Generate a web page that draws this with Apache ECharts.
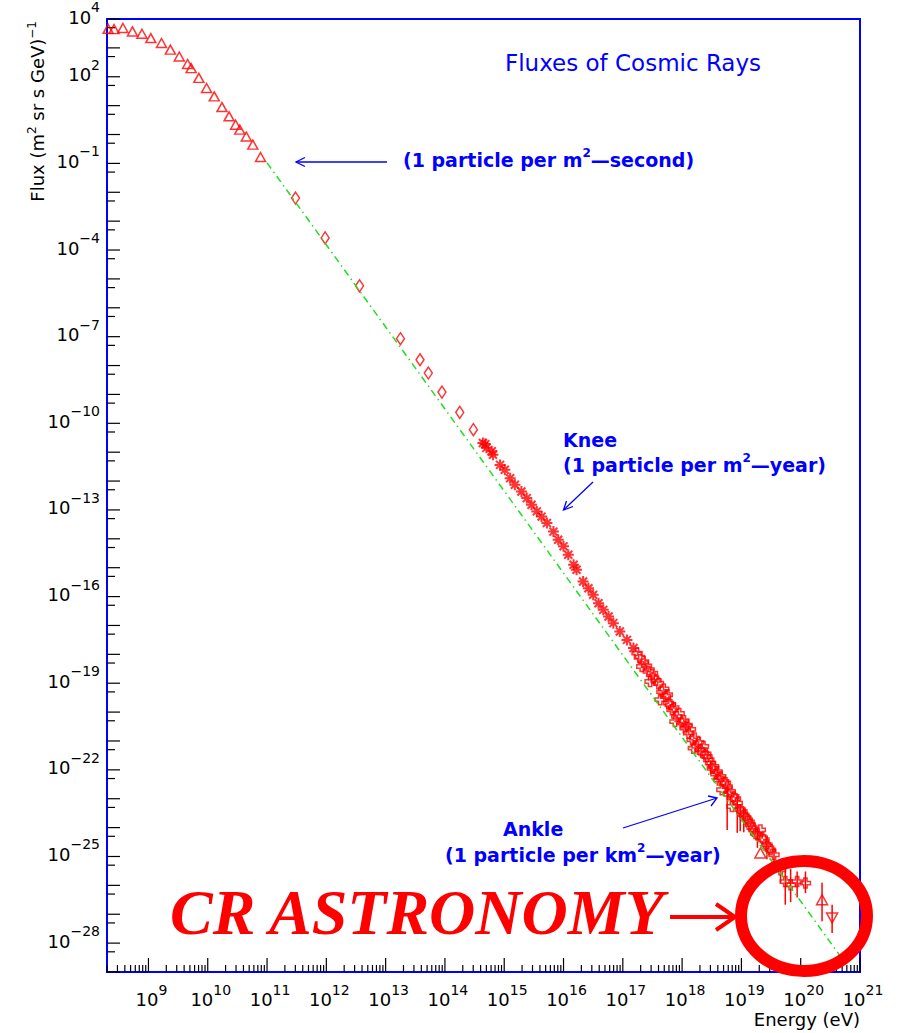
<!DOCTYPE html>
<html>
<head>
<meta charset="utf-8">
<script src="https://cdn.jsdelivr.net/npm/echarts@6/dist/echarts.min.js"></script>
<style>
  html, body { margin: 0; padding: 0; background: #ffffff; }
  #chart { width: 901px; height: 1033px; }
</style>
</head>
<body>
<div id="chart"></div>
<script>
// Axis ranges (energy in eV, flux in (m^2 sr s GeV)^-1)
const X_MIN = 2e8, X_MAX = 1e21;
const Y_MIN = 1e-29, Y_MAX = 1e4;

// Tick label exponents
const xLabelExponents = [9, 10, 11, 12, 13, 14, 15, 16, 17, 18, 19, 20, 21];
const yLabelExponents = [4, 2, -1, -4, -7, -10, -13, -16, -19, -22, -25, -28];

// Low-energy measurements (open up-triangles), log10 values
const triLogE = [8.32, 8.42, 8.57, 8.73, 8.89, 9.04, 9.22, 9.37, 9.52, 9.66, 9.72, 9.85, 9.98, 10.11, 10.24, 10.36, 10.47, 10.54, 10.65, 10.76, 10.89];
const triLogF = [3.66, 3.65, 3.69, 3.57, 3.49, 3.34, 3.17, 2.94, 2.70, 2.44, 2.30, 1.96, 1.61, 1.32, 0.95, 0.63, 0.34, 0.17, -0.07, -0.35, -0.78];

// Direct measurements (open diamonds)
const diaLogE = [11.48, 11.98, 12.56, 13.25, 13.58, 13.72, 13.95, 14.25, 14.48];
const diaLogF = [-2.20, -3.58, -5.24, -7.07, -7.80, -8.26, -8.92, -9.62, -10.22];

// Air-shower data around the knee (asterisks)
const starLogE = [14.64, 14.68, 14.70, 14.79, 14.81, 14.93, 15.01, 15.10, 15.18, 15.29, 15.38, 15.46, 15.55, 15.63, 15.72, 15.83, 15.91, 16.00, 16.08, 16.17, 16.22, 16.33, 16.42, 16.50, 16.59, 16.67, 16.76, 16.84, 16.95, 17.07, 17.18];
const starLogF = [-10.68, -10.72, -10.85, -10.97, -11.09, -11.44, -11.61, -11.90, -12.13, -12.36, -12.59, -12.82, -13.05, -13.23, -13.45, -13.75, -14.03, -14.26, -14.55, -14.90, -15.07, -15.48, -15.71, -15.94, -16.23, -16.46, -16.69, -16.92, -17.21, -17.50, -17.78];

// Highest-energy data (open crosses)
const crossLogE = [17.24, 17.28, 17.35, 17.32, 17.40, 17.43, 17.52, 17.46, 17.50, 17.56, 17.60, 17.66, 17.69, 17.72, 17.63, 17.75, 17.77, 17.80, 17.83, 17.86, 17.91, 17.88, 17.95, 18.00, 18.03, 18.05, 18.08, 18.11, 18.14, 18.17, 18.21, 18.25, 18.28, 18.31, 18.34, 18.36, 18.19, 18.40, 18.42, 18.45, 18.48, 18.51, 18.53, 18.57, 18.59, 18.62, 18.65, 18.70, 18.73, 18.76, 18.67, 18.79, 18.81, 18.87, 18.90, 18.93, 18.84, 18.98, 19.01, 19.04, 19.07, 19.10, 19.13, 19.15, 19.18, 19.21, 19.24, 19.32, 19.27, 19.35, 19.38, 19.43, 19.46, 19.49, 19.55, 19.66, 19.74, 19.83, 19.94, 20.08];
const crossLogF = [-17.96, -18.10, -18.25, -18.42, -18.40, -18.59, -18.82, -18.94, -18.65, -18.90, -19.00, -19.29, -19.20, -19.46, -19.57, -19.40, -19.69, -19.75, -19.92, -19.85, -20.15, -20.33, -20.05, -20.38, -20.30, -20.55, -20.45, -20.73, -20.60, -20.96, -20.90, -21.19, -21.05, -21.31, -21.40, -21.19, -21.25, -21.45, -21.54, -21.65, -21.77, -21.95, -21.88, -22.15, -22.06, -22.35, -22.23, -22.40, -22.45, -22.58, -22.69, -22.85, -22.75, -22.92, -23.00, -23.15, -23.27, -23.38, -23.45, -23.56, -23.65, -23.73, -23.80, -23.90, -24.00, -24.08, -24.20, -24.08, -24.25, -24.35, -24.42, -24.60, -24.70, -24.77, -24.94, -25.46, -25.87, -25.98, -25.87, -25.92];

// Highest-energy triangles
const heUpLogE = [19.32, 20.36];
const heUpLogF = [-24.88, -26.50];
const heDownLogE = [20.53];
const heDownLogF = [-27.13];

// Vertical error bars (decades above / below the point)
const errLogE = [18.48, 18.59, 18.76, 18.93, 18.98, 19.04, 19.27, 19.43, 19.55, 19.66, 19.74, 19.83, 19.94, 20.08, 20.36, 20.53];
const errLogF = [-21.77, -22.06, -22.58, -23.15, -23.38, -23.56, -24.25, -24.60, -24.94, -25.46, -25.87, -25.98, -25.87, -25.92, -26.50, -27.13];
const errUp   = [0.10, 0.10, 0.05, 0.28, 0.20, 0.25, 0.20, 0.30, 0.20, 0.30, 0.50, 0.55, 0.35, 0.40, 0.59, 0.46];
const errDown = [0.35, 0.30, 1.50, 1.03, 0.75, 0.60, 0.45, 0.50, 0.60, 0.45, 0.80, 0.60, 0.55, 0.35, 0.74, 0.52];

// E^-2.8 reference line
const refLogE = [11.0, 20.78];
const refLogF = [-0.98, -28.77];

const pow10 = e => Math.pow(10, e);
const pairs = (le, lf) => le.map((e, i) => [pow10(e), pow10(lf[i])]);
const supText = n => String(n).replace('-', '\u2212');

const RED = '#ff0000';
const BLUE = '#0000ff';
const FONT = '"DejaVu Sans", sans-serif';

// Tick marks: decades long, sub-decade short
const xTicks = [];
for (let n = 8; n <= 21; n++) {
  for (let k = 1; k <= 9; k++) {
    const v = k * pow10(n);
    if (v >= X_MIN * 0.999 && v <= X_MAX * 1.001) xTicks.push([v, Y_MIN, k === 1 ? 14 : 7]);
  }
}
const yTicks = [];
for (let n = -29; n <= 4; n++) {
  yTicks.push([X_MIN, pow10(n), 13]);
  const half = 0.5 * pow10(n);
  if (half >= Y_MIN) yTicks.push([X_MIN, half, 8]);
}

// "10" with a raised exponent: base glyph at the bottom of the line, exponent centred higher
const LABEL_RICH = {
  b: { fontSize: 18, fontFamily: FONT, lineHeight: 14, verticalAlign: 'bottom', fill: '#000' },
  s: { fontSize: 14, fontFamily: FONT, lineHeight: 38, verticalAlign: 'middle', fill: '#000' }
};

const ASTERISK = 'path://M0,-4L0,4M-4,0L4,0M-2.9,-2.9L2.9,2.9M-2.9,2.9L2.9,-2.9';
const OPEN_CROSS = 'path://M-1,-3L1,-3L1,-1L3,-1L3,1L1,1L1,3L-1,3L-1,1L-3,1L-3,-1L-1,-1Z';
const hollow = { color: 'rgba(0,0,0,0)', borderColor: RED, borderWidth: 1.5 };

const chart = echarts.init(document.getElementById('chart'), null, { renderer: 'svg' });

const annRich = (size) => ({
  n: { fontSize: size, fontFamily: FONT, fontWeight: 'bold', lineHeight: size + 3, verticalAlign: 'bottom', fill: BLUE },
  s: { fontSize: Math.round(size * 0.65), fontFamily: FONT, fontWeight: 'bold', lineHeight: Math.round(size * 0.65), verticalAlign: 'top', fill: BLUE }
});

const option = {
  animation: false,
  backgroundColor: '#ffffff',
  title: {
    text: 'Fluxes of Cosmic Rays',
    left: 505, top: 51, padding: 0,
    textStyle: { color: BLUE, fontFamily: FONT, fontSize: 23, fontWeight: 'normal', lineHeight: 24 }
  },
  grid: {
    left: 107, top: 19, width: 753, height: 953,
    show: true, borderColor: BLUE, borderWidth: 2, backgroundColor: 'transparent'
  },
  xAxis: {
    type: 'log', logBase: 10, min: X_MIN, max: X_MAX,
    axisLine: { show: false }, axisTick: { show: false }, axisLabel: { show: false }, splitLine: { show: false }
  },
  yAxis: {
    type: 'log', logBase: 10, min: Y_MIN, max: Y_MAX,
    axisLine: { show: false }, axisTick: { show: false }, axisLabel: { show: false }, splitLine: { show: false }
  },
  series: [
    {
      name: 'error bars', type: 'custom', silent: true,
      data: errLogE.map((e, i) => [pow10(e), pow10(errLogF[i]), pow10(errLogF[i] + errUp[i]), pow10(errLogF[i] - errDown[i])]),
      encode: { x: 0, y: 1 },
      renderItem: (params, api) => {
        const top = api.coord([api.value(0), api.value(2)]);
        const bot = api.coord([api.value(0), api.value(3)]);
        return { type: 'line', shape: { x1: top[0], y1: top[1], x2: bot[0], y2: bot[1] }, style: { stroke: RED, lineWidth: 1.5 } };
      }
    },
    { name: 'low energy', type: 'scatter', silent: true, symbol: 'triangle', symbolSize: [10, 9], itemStyle: hollow, data: pairs(triLogE, triLogF) },
    { name: 'direct', type: 'scatter', silent: true, symbol: 'diamond', symbolSize: [8, 12], itemStyle: hollow, data: pairs(diaLogE, diaLogF) },
    { name: 'knee', type: 'scatter', silent: true, symbol: ASTERISK, symbolSize: 11, itemStyle: { color: 'rgba(0,0,0,0)', borderColor: RED, borderWidth: 2 }, data: pairs(starLogE, starLogF) },
    { name: 'ankle', type: 'scatter', silent: true, symbol: OPEN_CROSS, symbolSize: 10, itemStyle: hollow, data: pairs(crossLogE, crossLogF) },
    { name: 'he up', type: 'scatter', silent: true, symbol: 'triangle', symbolSize: [11, 10], itemStyle: hollow, data: pairs(heUpLogE, heUpLogF) },
    { name: 'he down', type: 'scatter', silent: true, symbol: 'triangle', symbolRotate: 180, symbolSize: [11, 10], itemStyle: hollow, data: pairs(heDownLogE, heDownLogF) },
    {
      name: 'reference', type: 'line', silent: true, showSymbol: false, symbol: 'none',
      lineStyle: { color: '#22dd22', width: 1.5, type: [7, 4, 1.5, 4] },
      data: pairs(refLogE, refLogF)
    },
    {
      name: 'x ticks', type: 'custom', silent: true, data: xTicks, encode: { x: 0, y: 1 },
      renderItem: (params, api) => {
        const p = api.coord([api.value(0), Y_MIN]);
        const len = api.value(2);
        return { type: 'line', shape: { x1: p[0], y1: p[1], x2: p[0], y2: p[1] - len }, style: { stroke: '#000', lineWidth: 1.2 } };
      }
    },
    {
      name: 'y ticks', type: 'custom', silent: true, data: yTicks, encode: { x: 0, y: 1 },
      renderItem: (params, api) => {
        const p = api.coord([X_MIN, api.value(1)]);
        const len = api.value(2);
        return { type: 'line', shape: { x1: p[0], y1: p[1], x2: p[0] + len, y2: p[1] }, style: { stroke: '#000', lineWidth: 1.2 } };
      }
    },
    {
      name: 'x labels', type: 'custom', silent: true,
      data: xLabelExponents.map(n => [pow10(n), Y_MIN, n]), encode: { x: 0, y: 1 },
      renderItem: (params, api) => {
        const p = api.coord([api.value(0), Y_MIN]);
        return {
          type: 'text', x: p[0] + 3, y: p[1] - 1.5,
          style: { text: '{b|10}{s|' + supText(api.value(2)) + '}', rich: LABEL_RICH, align: 'center', verticalAlign: 'top', fill: '#000' }
        };
      }
    },
    {
      name: 'y labels', type: 'custom', silent: true,
      data: yLabelExponents.map(n => [X_MIN, pow10(n), n]), encode: { x: 0, y: 1 },
      renderItem: (params, api) => {
        const p = api.coord([X_MIN, api.value(1)]);
        return {
          type: 'text', x: p[0] - 7, y: p[1] - 31,
          style: { text: '{b|10}{s|' + supText(api.value(2)) + '}', rich: LABEL_RICH, align: 'right', verticalAlign: 'top', fill: '#000' }
        };
      }
    }
  ],
  graphic: [
    // axis titles
    {
      type: 'text', x: 36, y: 21, rotation: Math.PI / 2,
      style: {
        text: '{n|Flux (m}{s|2}{n| sr s GeV)}{s|\u22121}', align: 'right', verticalAlign: 'middle',
        rich: {
          n: { fontSize: 18, fontFamily: FONT, lineHeight: 21, verticalAlign: 'bottom', fill: '#000' },
          s: { fontSize: 12, fontFamily: FONT, lineHeight: 12, verticalAlign: 'top', fill: '#000' }
        }
      }
    },
    { type: 'text', x: 860, y: 1019, style: { text: 'Energy (eV)', font: '18px ' + FONT, lineHeight: 18, fill: '#000', align: 'right', verticalAlign: 'middle' } },
    // annotations
    { type: 'text', x: 403, y: 158, style: { text: '{n|(1 particle per m}{s|2}{n|\u2014second)}', rich: annRich(19), align: 'left', verticalAlign: 'middle' } },
    { type: 'line', shape: { x1: 387, y1: 162, x2: 296, y2: 162 }, style: { stroke: BLUE, lineWidth: 1.3 } },
    { type: 'polyline', shape: { points: [[305, 157.5], [296, 162], [305, 166.5]] }, style: { stroke: BLUE, lineWidth: 1.3, fill: 'none' } },
    { type: 'text', x: 563, y: 438, style: { text: '{n|Knee}', rich: annRich(19), align: 'left', verticalAlign: 'middle' } },
    { type: 'text', x: 563, y: 463, style: { text: '{n|(1 particle per m}{s|2}{n|\u2014year)}', rich: annRich(19), align: 'left', verticalAlign: 'middle' } },
    { type: 'line', shape: { x1: 593, y1: 482, x2: 563.5, y2: 510 }, style: { stroke: BLUE, lineWidth: 1.3 } },
    { type: 'polyline', shape: { points: [[566.5, 501], [563.5, 510], [573, 506.5]] }, style: { stroke: BLUE, lineWidth: 1.3, fill: 'none' } },
    { type: 'text', x: 503, y: 827, style: { text: '{n|Ankle}', rich: annRich(19), align: 'left', verticalAlign: 'middle' } },
    { type: 'text', x: 445, y: 853, style: { text: '{n|(1 particle per km}{s|2}{n|\u2014year)}', rich: annRich(19), align: 'left', verticalAlign: 'middle' } },
    { type: 'line', shape: { x1: 623, y1: 828, x2: 717, y2: 798 }, style: { stroke: BLUE, lineWidth: 1.3 } },
    { type: 'polyline', shape: { points: [[708, 796], [717, 798], [711, 806]] }, style: { stroke: BLUE, lineWidth: 1.3, fill: 'none' } },
    // highlighted region
    { type: 'ellipse', shape: { cx: 804, cy: 916, rx: 63, ry: 55 }, style: { fill: 'none', stroke: RED, lineWidth: 12 }, z: 100 },
    { type: 'text', x: 170, y: 912, style: { text: 'CR ASTRONOMY', font: 'italic bold 64px "Liberation Serif", serif', fill: RED, align: 'left', verticalAlign: 'middle' }, z: 100 },
    { type: 'line', shape: { x1: 670, y1: 917, x2: 733, y2: 917 }, style: { stroke: RED, lineWidth: 4 }, z: 100 },
    { type: 'polyline', shape: { points: [[716, 904], [735, 917], [716, 930]] }, style: { stroke: RED, lineWidth: 4, fill: 'none' }, z: 100 }
  ]
};

chart.setOption(option);
</script>
</body>
</html>
